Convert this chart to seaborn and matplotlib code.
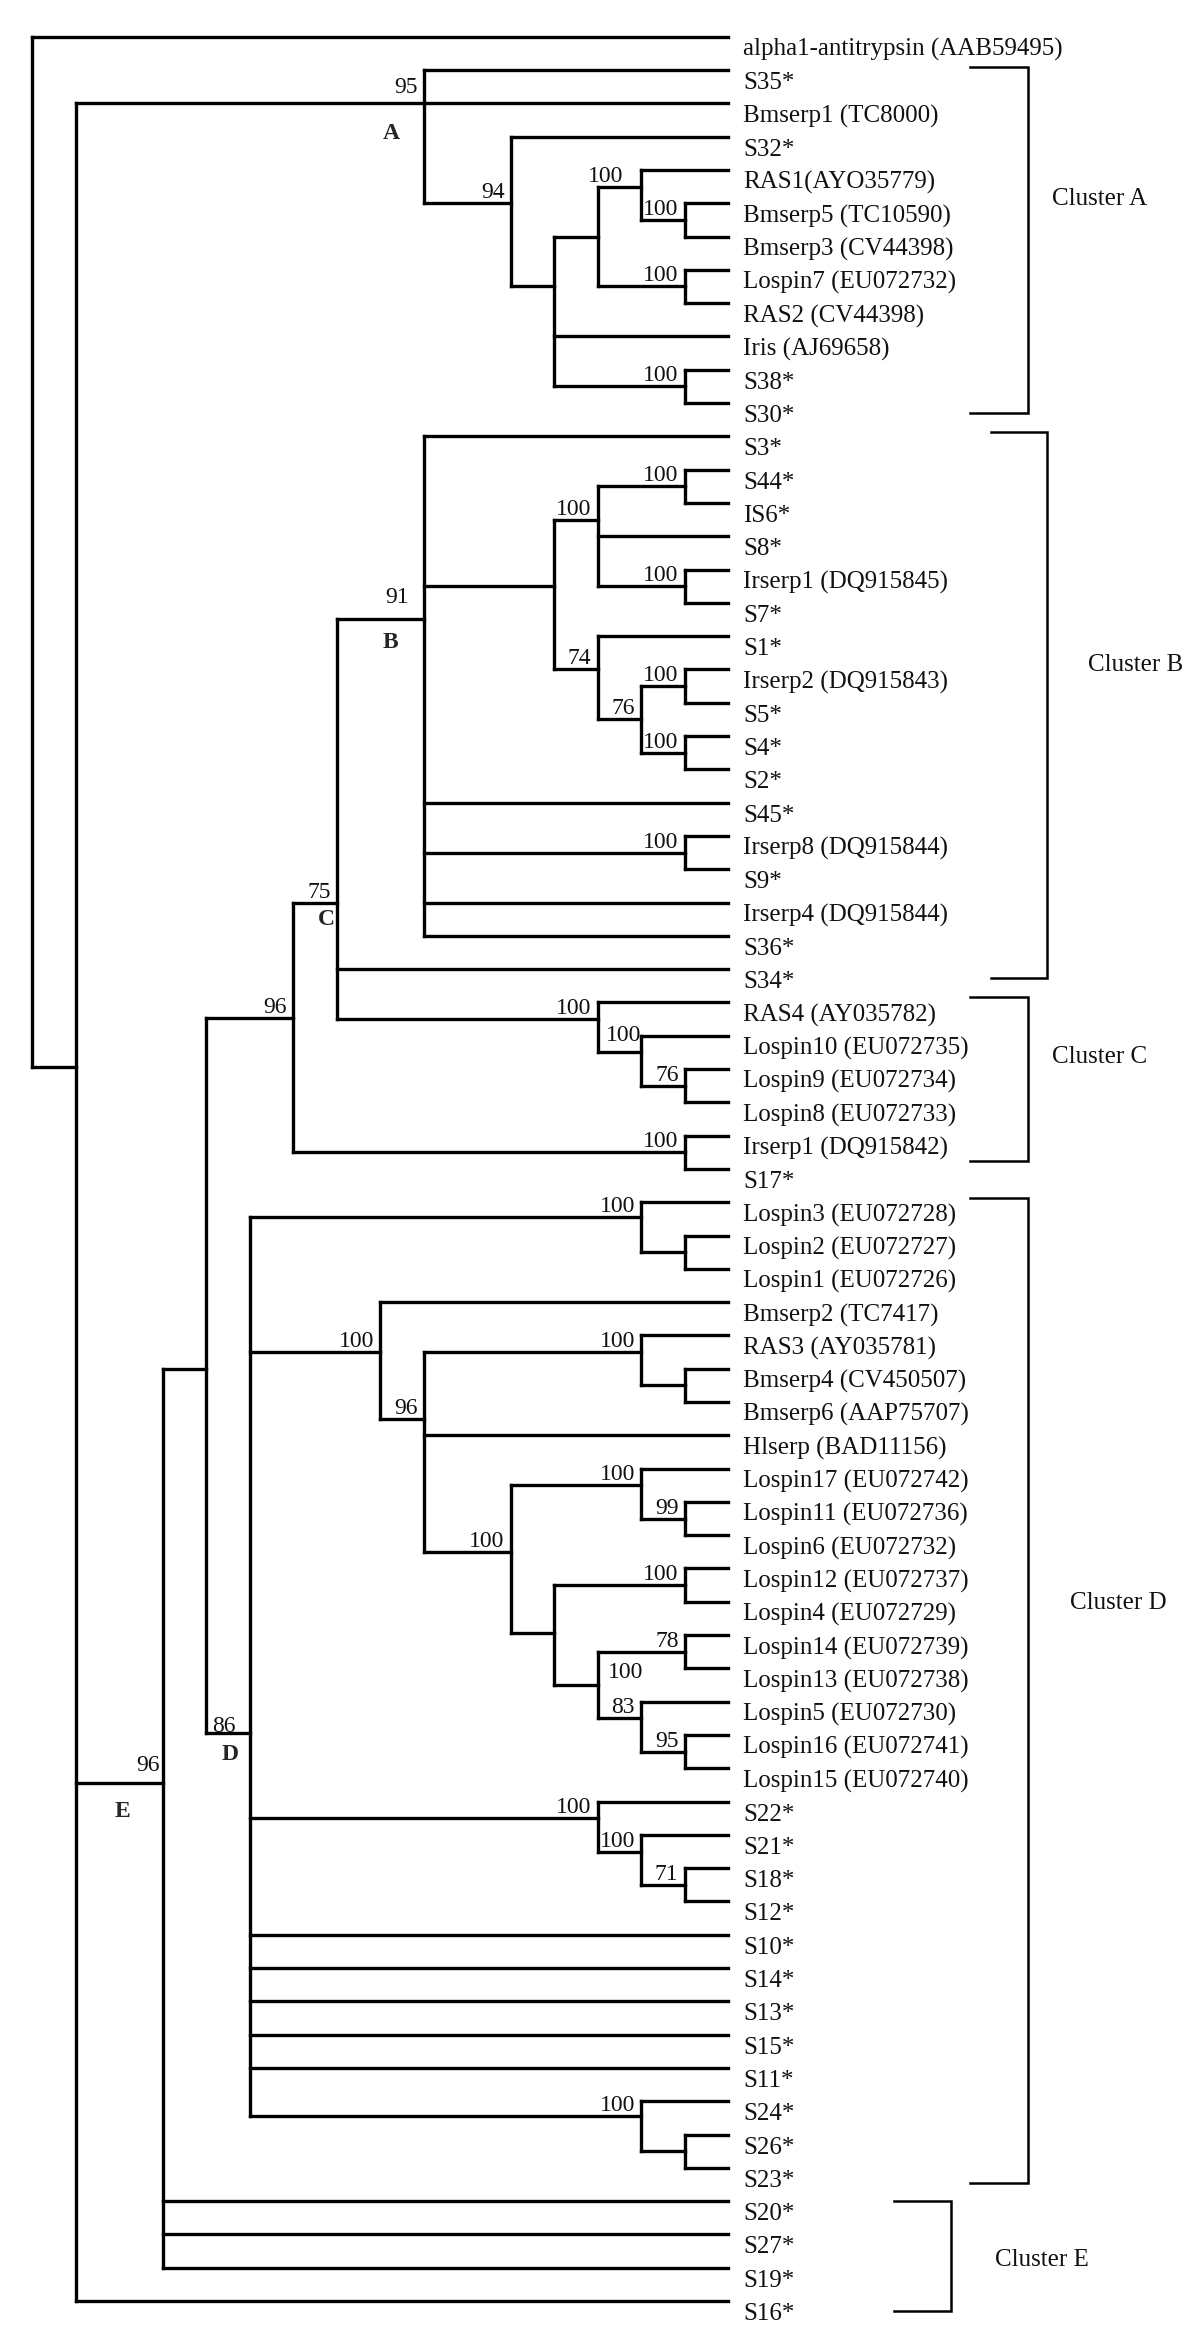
import numpy as np
import pandas as pd
import matplotlib
matplotlib.use("Agg")
import matplotlib.pyplot as plt
import seaborn as sns

# leaf labels, top to bottom (row index = position in this list)
leaves = [
    "alpha1-antitrypsin (AAB59495)", "S35*", "Bmserp1 (TC8000)", "S32*",
    "RAS1(AYO35779)", "Bmserp5 (TC10590)", "Bmserp3 (CV44398)", "Lospin7 (EU072732)",
    "RAS2 (CV44398)", "Iris (AJ69658)", "S38*", "S30*",
    "S3*", "S44*", "IS6*", "S8*", "Irserp1 (DQ915845)", "S7*", "S1*",
    "Irserp2 (DQ915843)", "S5*", "S4*", "S2*", "S45*", "Irserp8 (DQ915844)", "S9*",
    "Irserp4 (DQ915844)", "S36*", "S34*",
    "RAS4 (AY035782)", "Lospin10 (EU072735)", "Lospin9 (EU072734)", "Lospin8 (EU072733)",
    "Irserp1 (DQ915842)", "S17*",
    "Lospin3 (EU072728)", "Lospin2 (EU072727)", "Lospin1 (EU072726)", "Bmserp2 (TC7417)",
    "RAS3 (AY035781)", "Bmserp4 (CV450507)", "Bmserp6 (AAP75707)", "Hlserp (BAD11156)",
    "Lospin17 (EU072742)", "Lospin11 (EU072736)", "Lospin6 (EU072732)",
    "Lospin12 (EU072737)", "Lospin4 (EU072729)", "Lospin14 (EU072739)",
    "Lospin13 (EU072738)", "Lospin5 (EU072730)", "Lospin16 (EU072741)",
    "Lospin15 (EU072740)", "S22*", "S21*", "S18*", "S12*", "S10*", "S14*", "S13*",
    "S15*", "S11*", "S24*", "S26*", "S23*", "S20*", "S27*", "S19*", "S16*",
]
TIP_LEVEL = 16

# clades: name -> depth level, row where the stem joins, children, bootstrap
# children: int = leaf row, str = another clade
clade_level = {
    "root": 0, "n1": 1, "A": 9, "n94": 11, "a12": 12, "a13": 13, "a14": 14,
    "a15a": 15, "a15b": 15, "a15c": 15,
    "E": 3, "n4": 4, "n96": 6, "C": 7, "B": 9, "b12": 12, "b13": 13, "b15a": 15,
    "b15b": 15, "b13b": 13, "b14": 14, "b15c": 15, "b15d": 15, "b15e": 15,
    "c13": 13, "c14": 14, "c15f": 15, "c15": 15,
    "D": 5, "d14": 14, "d15": 15, "d8": 8, "d9": 9, "d14b": 14, "d15b": 15,
    "d11": 11, "d14e": 14, "d15j": 15, "d12": 12, "d15k": 15, "d13b": 13,
    "d15l": 15, "d14f": 14, "d15m": 15, "d13": 13, "d14g": 14, "d15n": 15,
    "d14c": 14, "d15o": 15,
}
clade_stem_row = {
    "root": None, "n1": 30.95, "A": 2, "n94": 5, "a12": 7.5, "a13": 6, "a14": 4.5,
    "a15a": 5.5, "a15b": 7.5, "a15c": 10.5,
    "E": 52.43, "n4": 40, "n96": 29.48, "C": 26, "B": 17.5, "b12": 16.5,
    "b13": 14.5, "b15a": 13.5, "b15b": 16.5, "b13b": 19, "b14": 20.5,
    "b15c": 19.5, "b15d": 21.5, "b15e": 24.5,
    "c13": 29.5, "c14": 30.5, "c15f": 31.5, "c15": 33.5,
    "D": 50.93, "d14": 35.45, "d15": 36.5, "d8": 39.5, "d9": 41.5, "d14b": 39.5,
    "d15b": 40.5, "d11": 45.5, "d14e": 43.5, "d15j": 44.5, "d12": 47.93,
    "d15k": 46.5, "d13b": 49.5, "d15l": 48.5, "d14f": 50.5, "d15m": 51.5,
    "d13": 53.5, "d14g": 54.5, "d15n": 55.5, "d14c": 62.43, "d15o": 63.5,
}
clade_children = {
    "root": [0, "n1"], "n1": ["A", "E", 68], "A": [1, 2, "n94"],
    "n94": [3, "a12"], "a12": ["a13", 9, "a15c"], "a13": ["a14", "a15b"],
    "a14": [4, "a15a"], "a15a": [5, 6], "a15b": [7, 8], "a15c": [10, 11],
    "E": ["n4", 65, 66, 67], "n4": ["n96", "D"], "n96": ["C", "c15"],
    "C": ["B", 28, "c13"], "B": [12, "b12", 23, "b15e", 26, 27],
    "b12": ["b13", "b13b"], "b13": ["b15a", 15, "b15b"], "b15a": [13, 14],
    "b15b": [16, 17], "b13b": [18, "b14"], "b14": ["b15c", "b15d"],
    "b15c": [19, 20], "b15d": [21, 22], "b15e": [24, 25],
    "c13": [29, "c14"], "c14": [30, "c15f"], "c15f": [31, 32], "c15": [33, 34],
    "D": ["d14", "d8", "d13", 57, 58, 59, 60, 61, "d14c"],
    "d14": [35, "d15"], "d15": [36, 37], "d8": [38, "d9"],
    "d9": ["d14b", 42, "d11"], "d14b": [39, "d15b"], "d15b": [40, 41],
    "d11": ["d14e", "d12"], "d14e": [43, "d15j"], "d15j": [44, 45],
    "d12": ["d15k", "d13b"], "d15k": [46, 47], "d13b": ["d15l", "d14f"],
    "d15l": [48, 49], "d14f": [50, "d15m"], "d15m": [51, 52],
    "d13": [53, "d14g"], "d14g": [54, "d15n"], "d15n": [55, 56],
    "d14c": [62, "d15o"], "d15o": [63, 64],
}
bootstrap = {
    "A": 95, "n94": 94, "a14": 100, "a15a": 100, "a15b": 100, "a15c": 100,
    "E": 96, "n96": 96, "C": 75, "B": 91, "b13": 100, "b15a": 100, "b15b": 100,
    "b13b": 74, "b14": 76, "b15c": 100, "b15d": 100, "b15e": 100,
    "c13": 100, "c14": 100, "c15f": 76, "c15": 100,
    "D": 86, "d14": 100, "d8": 100, "d9": 96, "d14b": 100, "d11": 100,
    "d14e": 100, "d15j": 99, "d15k": 100, "d13b": 100, "d15l": 78, "d14f": 83,
    "d15m": 95, "d13": 100, "d14g": 100, "d15n": 71, "d14c": 100,
}

# bold clade letters (level, row)
letter_names = ["A", "B", "C", "D", "E"]
letter_level = [8.25, 8.23, 6.76, 4.55, 2.07]
letter_row = [2.92, 18.2, 26.5, 51.6, 53.3]

# cluster brackets: x range (levels), top/bottom (rows), caption position
cluster_names = ["Cluster A", "Cluster B", "Cluster C", "Cluster D", "Cluster E"]
bracket_x0 = [21.56, 22.05, 21.56, 21.56, 19.82]
bracket_x1 = [22.90, 23.33, 22.90, 22.90, 21.13]
bracket_top = [0.91, 11.87, 28.84, 34.87, 64.99]
bracket_bottom = [11.29, 28.27, 33.76, 64.45, 68.30]
caption_level = [23.45, 24.28, 23.45, 23.86, 22.14]
caption_row = [4.87, 18.87, 30.64, 47.04, 66.77]

# pixel geometry of the figure
X0, DX = 32.0, 43.5      # px of level 0, px per level
Y0, DY = 36.7, 33.3      # px of row 0, px per row
W, H = 1200, 2349


def node_row(child):
    if isinstance(child, str):
        return clade_stem_row[child]
    return child


# build line segments of the tree
segs = []
for name, kids in clade_children.items():
    lvl = clade_level[name]
    rows = [node_row(k) for k in kids]
    segs.append(((lvl, min(rows)), (lvl, max(rows))))
    for k in kids:
        if isinstance(k, str):
            segs.append(((lvl, clade_stem_row[k]), (clade_level[k], clade_stem_row[k])))
        else:
            segs.append(((lvl, k), (TIP_LEVEL, k)))

tree_df = pd.DataFrame(
    [(i, p[0], p[1]) for i, s in enumerate(segs) for p in s],
    columns=["seg", "x", "y"],
)

br = []
for i in range(len(cluster_names)):
    br += [(i, bracket_x0[i], bracket_top[i]), (i, bracket_x1[i], bracket_top[i]),
           (i, bracket_x1[i], bracket_bottom[i]), (i, bracket_x0[i], bracket_bottom[i])]
br_df = pd.DataFrame(br, columns=["seg", "x", "y"])

sns.set_theme(style="white")
plt.rcParams["font.family"] = ["Liberation Serif", "DejaVu Serif"]

fig = plt.figure(figsize=(W / 100, H / 100), dpi=100)
ax = fig.add_axes([0, 0, 1, 1])
ax.set_xlim(-X0 / DX, (W - X0) / DX)
ax.set_ylim((H - Y0) / DY, -Y0 / DY)
ax.axis("off")

sns.lineplot(data=tree_df, x="x", y="y", units="seg", estimator=None, sort=False,
             color="black", lw=2.4, ax=ax, legend=False)
sns.lineplot(data=br_df, x="x", y="y", units="seg", estimator=None, sort=False,
             color="black", lw=1.8, ax=ax, legend=False)
for ln in ax.lines:
    ln.set_solid_capstyle("projecting")
    ln.set_solid_joinstyle("miter")

# leaf labels
for r, lab in enumerate(leaves):
    ax.text(TIP_LEVEL + 15 / DX, r + 19 / DY, lab, fontsize=18,
            ha="left", va="baseline", color="#111111")

# bootstrap values, placed left of the node above its stem
nudge = {"a14": (-12, 0), "B": (-9, -11), "A": (0, -5), "E": (3, -7),
         "d13b": (52, -2), "c14": (6, -6), "D": (-8, 4)}
for name, val in bootstrap.items():
    ddx, ddy = nudge.get(name, (0, 0))
    ax.text(clade_level[name] + (-6 + ddx) / DX,
            clade_stem_row[name] + (-5 + ddy) / DY,
            str(val), fontsize=17, ha="right", va="baseline", color="#111111")

for t, lx, ly in zip(letter_names, letter_level, letter_row):
    ax.text(lx, ly, t, fontsize=17, fontweight="bold", ha="center", va="center")

for t, lx, ly in zip(cluster_names, caption_level, caption_row):
    ax.text(lx, ly, t, fontsize=18, ha="left", va="center", color="#111111")

fig.savefig("out.png", dpi=100)
